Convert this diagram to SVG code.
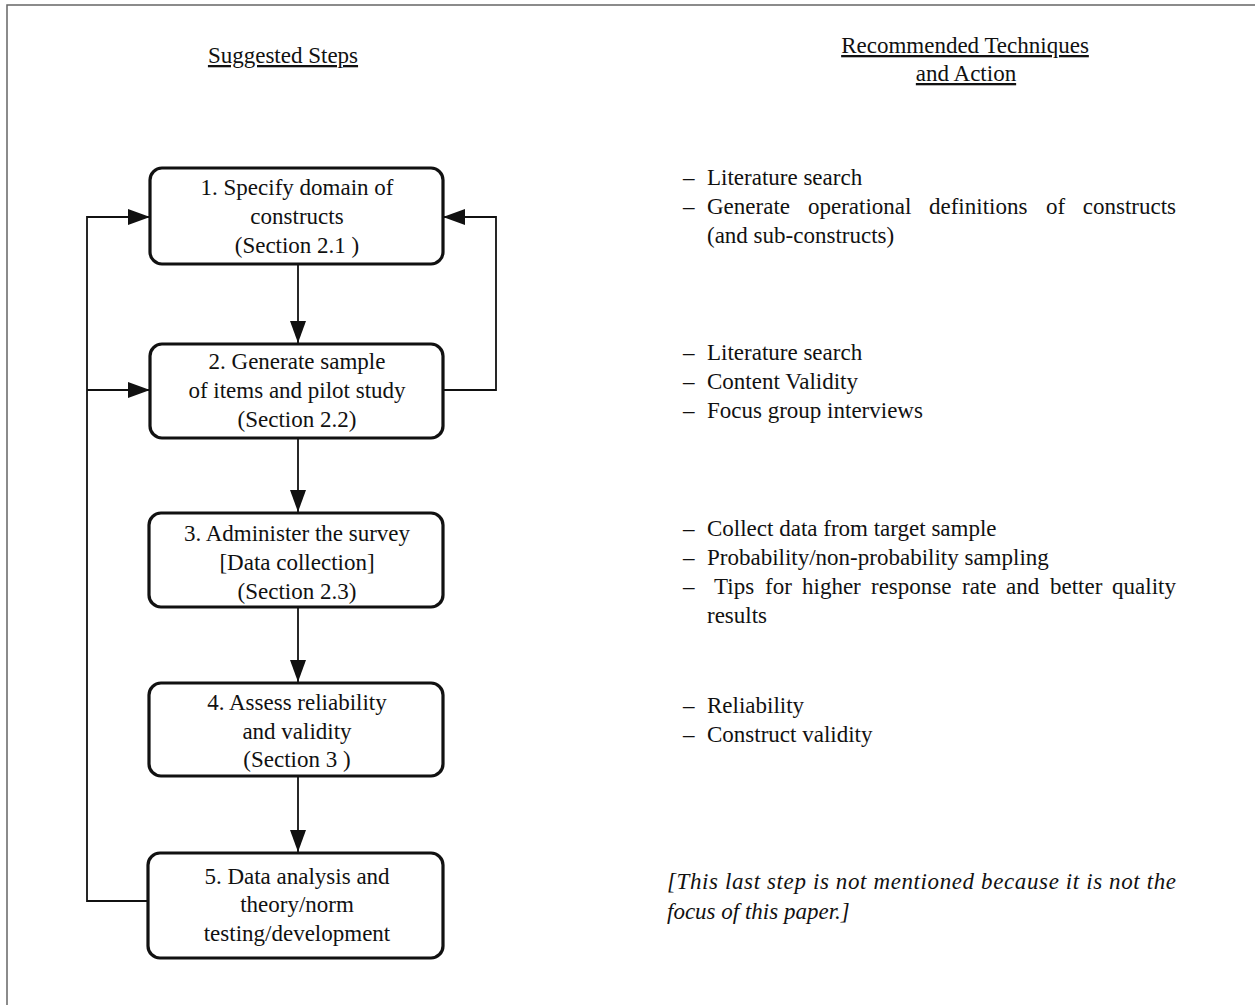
<svg xmlns="http://www.w3.org/2000/svg" width="1255" height="1005" viewBox="0 0 1255 1005">
<style>
text{font-family:"Liberation Serif","Times New Roman",serif;font-size:23px;fill:#111}
.c{text-anchor:middle}
.h{text-decoration:underline}
.i{font-style:italic}
.box{fill:#fff;stroke:#111;stroke-width:3.2}
.ln{fill:none;stroke:#111;stroke-width:1.8}
.frame{fill:none;stroke:#666;stroke-width:1.5}
</style>
<defs>
<marker id="ah" viewBox="0 0 22 16" refX="22" refY="8" markerWidth="22" markerHeight="16" markerUnits="userSpaceOnUse" orient="auto">
<path d="M0,0 L22,8 L0,16 Z" fill="#111"/>
</marker>
</defs>
<path class="frame" d="M7,1005 L7,5 L1255,5"/>
<g id="headers">
<text class="c h" x="283" y="63">Suggested Steps</text>
<text class="c h" x="965" y="53">Recommended Techniques</text>
<text class="c h" x="966" y="81">and Action</text>
</g>
<g id="connectors">
<line class="ln" x1="298" y1="265" x2="298" y2="343" marker-end="url(#ah)"/>
<line class="ln" x1="298" y1="439" x2="298" y2="512" marker-end="url(#ah)"/>
<line class="ln" x1="298" y1="608" x2="298" y2="682" marker-end="url(#ah)"/>
<line class="ln" x1="298" y1="777" x2="298" y2="852" marker-end="url(#ah)"/>
<path class="ln" d="M148,901 L87,901 L87,217 L150,217" marker-end="url(#ah)"/>
<path class="ln" d="M87,390 L150,390" marker-end="url(#ah)"/>
<path class="ln" d="M443,390 L496,390 L496,217 L443,217" marker-end="url(#ah)"/>
</g>
<g id="step1">
<rect class="box" x="150" y="168" width="293" height="96" rx="12"/>
<text class="c" x="297" y="195">1. Specify domain of</text>
<text class="c" x="297" y="224">constructs</text>
<text class="c" x="297" y="253">(Section 2.1 )</text>
</g>
<g id="step2">
<rect class="box" x="150" y="344" width="293" height="94" rx="12"/>
<text class="c" x="297" y="369">2. Generate sample</text>
<text class="c" x="297" y="398">of items and pilot study</text>
<text class="c" x="297" y="427">(Section 2.2)</text>
</g>
<g id="step3">
<rect class="box" x="149" y="513" width="294" height="94" rx="12"/>
<text class="c" x="297" y="541">3. Administer the survey</text>
<text class="c" x="297" y="570">[Data collection]</text>
<text class="c" x="297" y="599">(Section 2.3)</text>
</g>
<g id="step4">
<rect class="box" x="149" y="683" width="294" height="93" rx="12"/>
<text class="c" x="297" y="710">4. Assess reliability</text>
<text class="c" x="297" y="739">and validity</text>
<text class="c" x="297" y="767">(Section 3 )</text>
</g>
<g id="step5">
<rect class="box" x="148" y="853" width="295" height="105" rx="12"/>
<text class="c" x="297" y="884">5. Data analysis and</text>
<text class="c" x="297" y="912">theory/norm</text>
<text class="c" x="297" y="941">testing/development</text>
</g>
<g id="tech1">
<text x="683" y="185">–</text><text x="707" y="185">Literature search</text>
<text x="683" y="214">–</text>
<text y="214"><tspan x="707">Generate</tspan><tspan x="808">operational</tspan><tspan x="929">definitions</tspan><tspan x="1046">of</tspan><tspan x="1176" text-anchor="end">constructs</tspan></text>
<text x="707" y="243">(and sub-constructs)</text>
</g>
<g id="tech2">
<text x="683" y="360">–</text><text x="707" y="360">Literature search</text>
<text x="683" y="389">–</text><text x="707" y="389">Content Validity</text>
<text x="683" y="418">–</text><text x="707" y="418">Focus group interviews</text>
</g>
<g id="tech3">
<text x="683" y="536">–</text><text x="707" y="536">Collect data from target sample</text>
<text x="683" y="565">–</text><text x="707" y="565">Probability/non-probability sampling</text>
<text x="683" y="594">–</text>
<text y="594"><tspan x="714">Tips</tspan><tspan x="765">for</tspan><tspan x="802">higher</tspan><tspan x="871">response</tspan><tspan x="962">rate</tspan><tspan x="1006">and</tspan><tspan x="1050">better</tspan><tspan x="1176" text-anchor="end">quality</tspan></text>
<text x="707" y="623">results</text>
</g>
<g id="tech4">
<text x="683" y="713">–</text><text x="707" y="713">Reliability</text>
<text x="683" y="742">–</text><text x="707" y="742">Construct validity</text>
</g>
<g id="note5">
<text class="i" x="667" y="889" textLength="509" lengthAdjust="spacing">[This last step is not mentioned because it is not the</text>
<text class="i" x="667" y="919">focus of this paper.]</text>
</g>
</svg>
